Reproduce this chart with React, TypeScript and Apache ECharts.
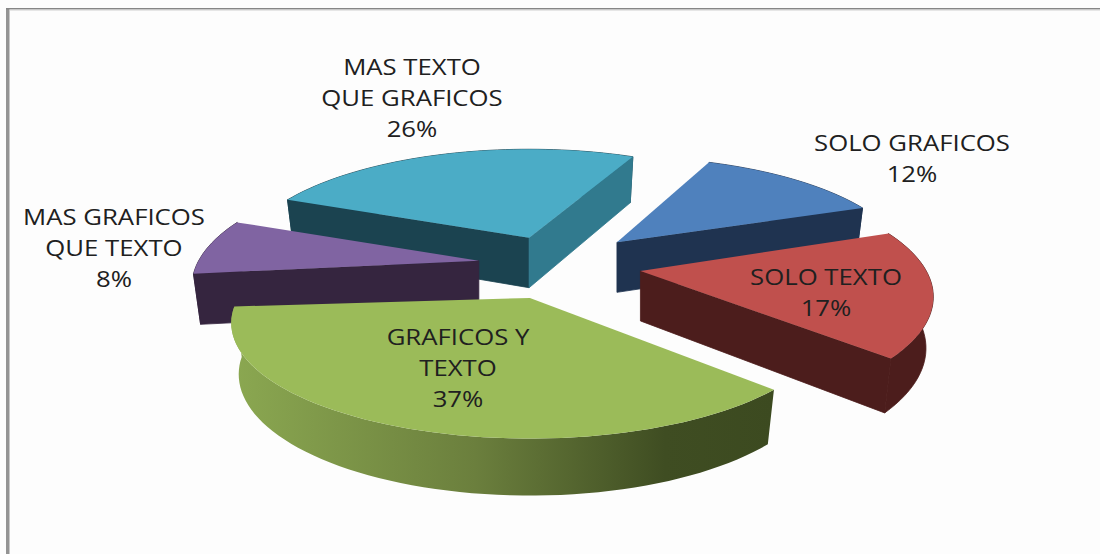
import React, { useEffect, useRef } from "react";
import * as echarts from "echarts";

const categories = ["SOLO GRAFICOS", "SOLO TEXTO", "GRAFICOS Y\nTEXTO", "MAS GRAFICOS\nQUE TEXTO", "MAS TEXTO\nQUE GRAFICOS"];
const values = [12, 17, 37, 8, 26];
const explode = [0.34, 0.295, 0.24, 0.28, 0.31];
const topColors = ["#4F81BD", "#C0504D", "#9BBB59", "#8064A2", "#4BACC6"];
const startCutColors = ["#1F3350", "#4C1D1C", "#3C4A20", "#35253F", "#1B4350"];
const endCutColors = ["#1F3350", "#4C1D1C", "#3C4A20", "#35253F", "#317A8E"];
const paintOrder = [2, 4, 5, 3, 1];
const labelAnchors = [[912, 127], [826, 261], [458, 321], [114, 201], [412, 51]];
// Small per-slice corrections of the perspective in the reference.
const rimStartNudge = [-3, 0, 4.5, 0, 0];
const rimEndNudge = [0, 1, 2, -1, 0];
const radiusXScale = [1, 1.01, 1.03, 0.99, 1];
const radiusYScale = [0.92, 1, 0.97, 1, 0.95];

const START_ANGLE = 296;
const CX = 555, CY = 265, RX = 283, RY = 113.4, PERSP = 0.218, DEPTH = 50;
const rad = (d: number) => (d * Math.PI) / 180;
const total = values.reduce((a, b) => a + b, 0);

function project(t: number, sx: number, sy: number) {
  const c = Math.cos(rad(t)), s = Math.sin(rad(t));
  const k = 1 - PERSP * s;
  return [(RX * sx * c) / k, (RY * sy * s) / k];
}
const lower = (p: number[], ax: number, ay: number) => [ax + p[0] * 0.975, ay + p[1] * 1.05 + DEPTH];

function renderItem(params: any, api: any) {
  const i = params.dataIndex;
  const v = api.value(0);
  let before = 0;
  for (let j = 0; j < i; j++) before += values[j];
  const b0 = START_ANGLE + (before / total) * 360;
  const b1 = b0 + (v / total) * 360;
  const mid = (b0 + b1) / 2;
  const t0 = b0 + rimStartNudge[i];
  const t1 = b1 + rimEndNudge[i];
  const c = Math.cos(rad(mid)), s = Math.sin(rad(mid));
  const e = explode[i];
  const k = 1 - PERSP * s;
  const ax = CX + (RX * c * e) / k;
  const ay = CY + (RY * s * e) / k;

  const arc: number[][] = [];
  const steps = Math.max(8, Math.round((t1 - t0) / 2));
  for (let n = 0; n <= steps; n++) arc.push(project(t0 + ((t1 - t0) * n) / steps, radiusXScale[i], radiusYScale[i]));
  const topArc = arc.map((p) => [ax + p[0], ay + p[1]]);
  const lowArc = arc.map((p) => lower(p, ax, ay));
  const apexLow = [ax, ay + DEPTH];
  const first = topArc[0], last = topArc[topArc.length - 1];
  const z2 = paintOrder[i];

  const cross = (a: number[], b: number[]) => a[0] * b[1] - a[1] * b[0];
  const cutVisible = (rim: number[], other: number[]) => {
    const edge = [rim[0] - ax, rim[1] - ay];
    const inner = [other[0] - ax, other[1] - ay];
    return Math.sign(cross(edge, [0, 1])) !== Math.sign(cross(edge, inner));
  };

  const wallFill: any =
    i === 2
      ? {
          type: "linear", x: 0, y: 0, x2: 1, y2: 0,
          colorStops: [
            { offset: 0, color: "#8BA851" },
            { offset: 0.45, color: "#6B7F3D" },
            { offset: 0.8, color: "#3F4D22" },
            { offset: 1, color: "#3C4A20" },
          ],
        }
      : startCutColors[i];

  const children: any[] = [];
  const poly = (points: number[][], fill: any, z: number, seam = false) => ({
    type: "polygon",
    z2: z,
    shape: { points },
    style: seam ? { fill, stroke: fill, lineWidth: 0.8 } : { fill },
  });
  children.push(poly([...topArc, ...lowArc.slice().reverse()], wallFill, z2 * 10, i !== 2));
  if (cutVisible(first, last)) children.push(poly([[ax, ay], first, lowArc[0], apexLow], startCutColors[i], z2 * 10 + 1, true));
  if (cutVisible(last, first)) children.push(poly([[ax, ay], last, lowArc[lowArc.length - 1], apexLow], endCutColors[i], z2 * 10 + 1, true));
  children.push(poly([[ax, ay], ...topArc], topColors[i], z2 * 10 + 2));
  children.push({
    type: "text",
    z2: 100,
    x: labelAnchors[i][0],
    y: labelAnchors[i][1],
    scaleX: 1.17,
    style: {
      text: `${categories[i]}\n${v}%`,
      fill: "#202020",
      font: '22px "Open Sans", sans-serif',
      align: "center",
      verticalAlign: "top",
      lineHeight: 31,
    },
  });
  return { type: "group", children };
}

export default function App() {
  const ref = useRef<HTMLDivElement>(null);
  useEffect(() => {
    const chart = echarts.init(ref.current!, undefined, { renderer: "svg" });
    chart.setOption({
      animation: false,
      backgroundColor: "#FDFDFD",
      graphic: [
        { type: "rect", shape: { x: 6, y: 8, width: 3.5, height: 546 }, style: { fill: "#949494" } },
        { type: "rect", shape: { x: 6, y: 8, width: 1094, height: 1.5 }, style: { fill: "#868686" } },
        { type: "rect", shape: { x: 9.5, y: 9.5, width: 1090.5, height: 1 }, style: { fill: "#D0D0D0" } },
      ],
      series: [
        {
          type: "custom",
          coordinateSystem: "none",
          silent: true,
          data: values.map((v, i) => ({ name: categories[i], value: [v] })),
          renderItem,
        },
      ],
    });
    return () => chart.dispose();
  }, []);
  return <div ref={ref} style={{ position: "fixed", left: 0, top: 0, width: 1100, height: 554 }} />;
}
